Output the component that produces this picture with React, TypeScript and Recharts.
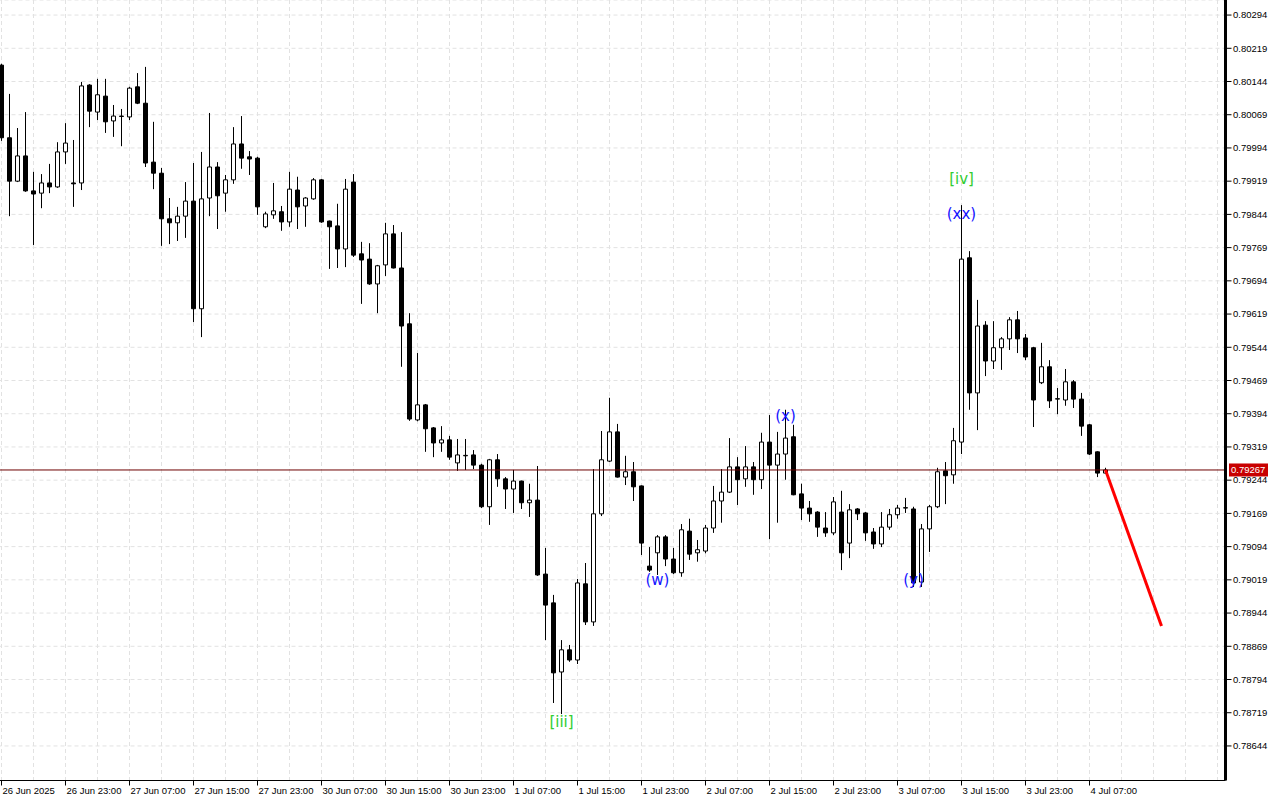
import React from "react";
import {
  Bar,
  CartesianGrid,
  Cell,
  ComposedChart,
  Line,
  ReferenceDot,
  ReferenceLine,
  XAxis,
  YAxis,
} from "recharts";

// H1 bars, 26 Jun 15:00 .. 4 Jul 09:00 (index = bar number)
const opens = [
  0.80181, 0.80017, 0.79919, 0.79976, 0.79897, 0.79892, 0.79915, 0.79906, 0.79985, 0.79915,
  0.79915, 0.80136, 0.80075, 0.80111, 0.80055, 0.80065, 0.80064, 0.80132, 0.80095, 0.79962,
  0.79937, 0.79834, 0.79825, 0.7984, 0.79874, 0.79631, 0.79881, 0.79951, 0.79892, 0.79922,
  0.80003, 0.79974, 0.79971, 0.79816, 0.79843, 0.7985, 0.79827, 0.79899, 0.79863, 0.79879,
  0.79922, 0.79829, 0.79818, 0.79766, 0.79917, 0.79755, 0.79743, 0.79687, 0.7973, 0.798,
  0.79723, 0.79597, 0.7938, 0.79414, 0.79362, 0.79328, 0.79335, 0.79283, 0.79299, 0.79301,
  0.79278, 0.79184, 0.7929, 0.79247, 0.79224, 0.79242, 0.79193, 0.79199, 0.79032, 0.78967,
  0.78811, 0.78861, 0.78838, 0.7901, 0.78924, 0.79168, 0.79287, 0.79353, 0.79251, 0.79263,
  0.79231, 0.7905, 0.7908, 0.79116, 0.79066, 0.79035, 0.79129, 0.7908, 0.79084, 0.79136,
  0.79197, 0.79217, 0.79274, 0.79247, 0.79274, 0.79245, 0.7933, 0.79278, 0.79303, 0.79342,
  0.79213, 0.79181, 0.79172, 0.79136, 0.79125, 0.79172, 0.79102, 0.79179, 0.7917, 0.79127,
  0.791, 0.79138, 0.79166, 0.79181, 0.79179, 0.79014, 0.79134, 0.79184, 0.79265, 0.79256,
  0.7933, 0.79746, 0.79441, 0.79594, 0.79513, 0.79543, 0.79563, 0.79606, 0.79565, 0.79543,
  0.79464, 0.795, 0.79427, 0.79425, 0.79466, 0.79427, 0.79369, 0.79308, 0.7926,
];
const highs = [
  0.80184, 0.80116, 0.80039, 0.80075, 0.7994, 0.79935, 0.79958, 0.80007, 0.8005, 0.80012,
  0.80143, 0.80138, 0.8015, 0.8015, 0.80091, 0.80082, 0.80132, 0.80163, 0.80177, 0.80053,
  0.79949, 0.79881, 0.79861, 0.79917, 0.7996, 0.79985, 0.80073, 0.79962, 0.79933, 0.80041,
  0.80066, 0.79987, 0.79974, 0.7985, 0.79915, 0.79863, 0.7994, 0.79929, 0.79883, 0.79926,
  0.79924, 0.7983, 0.79868, 0.79924, 0.79935, 0.79782, 0.79779, 0.7973, 0.79825, 0.7982,
  0.79804, 0.79621, 0.79531, 0.79416, 0.79364, 0.79366, 0.79344, 0.79337, 0.79337, 0.79312,
  0.79281, 0.79292, 0.79303, 0.79251, 0.79267, 0.79243, 0.79236, 0.79276, 0.79091, 0.78985,
  0.78883, 0.78872, 0.79021, 0.79057, 0.79269, 0.79355, 0.7943, 0.79371, 0.79299, 0.79285,
  0.79232, 0.79093, 0.7912, 0.7912, 0.79091, 0.79145, 0.79157, 0.79109, 0.79143, 0.79231,
  0.79269, 0.79339, 0.79296, 0.79321, 0.79285, 0.79351, 0.79391, 0.79353, 0.79403, 0.79369,
  0.79236, 0.79197, 0.79174, 0.79172, 0.79206, 0.7922, 0.7919, 0.79181, 0.79172, 0.79136,
  0.79172, 0.79179, 0.79188, 0.79204, 0.79184, 0.79145, 0.79188, 0.79272, 0.79285, 0.79362,
  0.79865, 0.79761, 0.79651, 0.79603, 0.79603, 0.79567, 0.79612, 0.79626, 0.79574, 0.79545,
  0.79554, 0.79515, 0.79452, 0.79495, 0.7947, 0.79441, 0.79371, 0.79309, 0.79272,
];
const lows = [
  0.8001, 0.7984, 0.79917, 0.79895, 0.79775, 0.79858, 0.79892, 0.79904, 0.79958, 0.79861,
  0.79899, 0.80041, 0.80057, 0.80028, 0.80019, 0.79998, 0.80057, 0.80093, 0.79951, 0.79901,
  0.79773, 0.79777, 0.79784, 0.79791, 0.79601, 0.79567, 0.7984, 0.79811, 0.7985, 0.79913,
  0.79947, 0.79933, 0.79843, 0.79813, 0.79834, 0.79807, 0.79816, 0.79811, 0.79816, 0.79877,
  0.79825, 0.79721, 0.79723, 0.79725, 0.79748, 0.79642, 0.79685, 0.79621, 0.79705, 0.79722,
  0.795, 0.79378, 0.79377, 0.79308, 0.79296, 0.79308, 0.7929, 0.79265, 0.79267, 0.79269,
  0.79181, 0.79143, 0.79229, 0.79179, 0.7917, 0.79179, 0.79161, 0.79028, 0.78883, 0.78741,
  0.78716, 0.78834, 0.78829, 0.78917, 0.78915, 0.79163, 0.79285, 0.7925, 0.79233, 0.79197,
  0.79075, 0.79037, 0.7903, 0.7905, 0.79032, 0.79026, 0.79064, 0.7906, 0.79079, 0.79125,
  0.79148, 0.79215, 0.79188, 0.79229, 0.79211, 0.79224, 0.79111, 0.79148, 0.79245, 0.7921,
  0.79154, 0.7915, 0.79116, 0.79116, 0.7912, 0.79041, 0.79068, 0.79154, 0.79107, 0.79089,
  0.79093, 0.79132, 0.79157, 0.7917, 0.79003, 0.79003, 0.79082, 0.79181, 0.7919, 0.79236,
  0.79303, 0.79403, 0.79357, 0.79479, 0.79495, 0.79493, 0.79538, 0.79531, 0.79515, 0.79364,
  0.79461, 0.79407, 0.79393, 0.79412, 0.79407, 0.79344, 0.79301, 0.79251, 0.79258,
];
const closes = [
  0.80017, 0.79919, 0.79976, 0.79897, 0.7989, 0.79915, 0.79906, 0.79985, 0.80005, 0.79913,
  0.80134, 0.80077, 0.80114, 0.80053, 0.80066, 0.80066, 0.80129, 0.80095, 0.7996, 0.79937,
  0.79834, 0.79825, 0.7984, 0.79874, 0.79631, 0.79879, 0.79951, 0.79886, 0.79922, 0.80003,
  0.79971, 0.79969, 0.79861, 0.79845, 0.79852, 0.79827, 0.79901, 0.79861, 0.79881, 0.79922,
  0.79827, 0.79816, 0.79766, 0.79901, 0.79752, 0.79741, 0.79687, 0.79728, 0.798, 0.79723,
  0.79592, 0.79382, 0.79414, 0.7936, 0.79328, 0.79335, 0.79296, 0.79301, 0.793, 0.79278,
  0.79184, 0.7929, 0.79247, 0.79224, 0.79242, 0.79193, 0.79199, 0.7903, 0.78962, 0.78809,
  0.78861, 0.78838, 0.79012, 0.78924, 0.79168, 0.7929, 0.79353, 0.79251, 0.79263, 0.79229,
  0.79102, 0.79041, 0.79116, 0.79066, 0.79035, 0.79132, 0.79077, 0.79087, 0.79136, 0.79197,
  0.79217, 0.79274, 0.79245, 0.79274, 0.79245, 0.7933, 0.79278, 0.79303, 0.79339, 0.79211,
  0.79181, 0.79168, 0.79138, 0.79125, 0.79195, 0.7908, 0.79177, 0.79168, 0.79125, 0.791,
  0.79138, 0.79166, 0.79181, 0.79182, 0.79012, 0.79134, 0.79184, 0.79263, 0.79254, 0.79333,
  0.79743, 0.79441, 0.79592, 0.79513, 0.79543, 0.79563, 0.79606, 0.79563, 0.79522, 0.79425,
  0.795, 0.79423, 0.79428, 0.79466, 0.79427, 0.79366, 0.79303, 0.7926, 0.79267,
];

const lastPrice = 0.79267;

// time axis labels (every 8 bars)
const xTickSlots = [0, 8, 16, 24, 32, 40, 48, 56, 64, 72, 80, 88, 96, 104, 112, 120, 128, 136];
const xTickLabels = [
  "26 Jun 2025", "26 Jun 23:00", "27 Jun 07:00", "27 Jun 15:00", "27 Jun 23:00",
  "30 Jun 07:00", "30 Jun 15:00", "30 Jun 23:00", "1 Jul 07:00", "1 Jul 15:00",
  "1 Jul 23:00", "2 Jul 07:00", "2 Jul 15:00", "2 Jul 23:00", "3 Jul 07:00",
  "3 Jul 15:00", "3 Jul 23:00", "4 Jul 07:00",
];

const priceTicks = [
  0.80294, 0.80219, 0.80144, 0.80069, 0.79994, 0.79919, 0.79844, 0.79769, 0.79694, 0.79619,
  0.79544, 0.79469, 0.79394, 0.79319, 0.79244, 0.79169, 0.79094, 0.79019, 0.78944, 0.78869,
  0.78794, 0.78719, 0.78644,
];

// wave labels
const waveSlots = [70, 82, 98, 114, 120, 120];
const wavePrices = [0.78698, 0.79019, 0.79389, 0.79019, 0.79845, 0.79924];
const waveTexts = ["[iii]", "(w)", "(x)", "(y)", "(xx)", "[iv]"];
const waveColors = ["#32cd32", "#1414ff", "#1414ff", "#1414ff", "#1414ff", "#32cd32"];

// forecast segment
const projSlots = [138, 145];
const projPrices = [0.79267, 0.78915];

const totalSlots = 153;
const gridSlots = Array.from({ length: 39 }, (_, k) => k * 4);

const rows = Array.from({ length: totalSlots }, (_, i) => {
  const has = i < opens.length;
  const p = projSlots.indexOf(i);
  return {
    i,
    wick: has ? [lows[i], highs[i]] : undefined,
    body: has ? [Math.min(opens[i], closes[i]), Math.max(opens[i], closes[i])] : undefined,
    up: has && closes[i] >= opens[i],
    proj: p >= 0 ? projPrices[p] : null,
  };
});

const axisFont = "Liberation Sans, Arial, sans-serif";

const Wick = (p: any) => {
  if (p.y == null || isNaN(p.y) || !p.height) return null;
  return <rect x={p.x + p.width / 2 - 0.5} y={p.y} width={1} height={Math.max(p.height, 1)} fill="#000" />;
};

const TimeTick = ({ x, y, payload }: any) => {
  const k = xTickSlots.indexOf(payload.value);
  if (k < 0) return null;
  return (
    <g>
      <line x1={x} x2={x} y1={y} y2={y + 5} stroke="#000" />
      <text x={x + 1} y={y + 10} dy="0.35em" fontSize={9.5} fontFamily={axisFont} fill="#000">
        {xTickLabels[k]}
      </text>
    </g>
  );
};

const PriceTick = ({ x, y, payload }: any) => (
  <g>
    <line x1={x} x2={x + 6} y1={y} y2={y} stroke="#000" />
    <text x={x + 7.5} y={y} dy="0.35em" fontSize={9.5} fontFamily={axisFont} fill="#000">
      {Number(payload.value).toFixed(5)}
    </text>
  </g>
);

const PriceTag = ({ viewBox }: any) => {
  if (!viewBox) return null;
  const right = viewBox.x + viewBox.width;
  return (
    <g>
      <rect x={right + 3.5} y={viewBox.y - 6.5} width={39} height={13} fill="#c80000" />
      <text x={right + 5.5} y={viewBox.y} dy="0.35em" fontSize={9.5} fontFamily={axisFont} fill="#fff">
        {lastPrice.toFixed(5)}
      </text>
    </g>
  );
};

export default function App() {
  return (
    <div style={{ position: "absolute", left: 0, top: 0, width: 1280, height: 800, background: "#fff" }}>
      <ComposedChart width={1280} height={800} data={rows} margin={{ top: 0, right: 0, bottom: 0, left: -2.5 }}>
        <CartesianGrid stroke="#e2e2e2" strokeDasharray="4 3" />
        <XAxis
          dataKey="i"
          type="category"
          ticks={gridSlots}
          interval={0}
          height={19.5}
          padding={{ left: 0, right: 4 }}
          tickSize={0}
          tickMargin={0}
          tickLine={false}
          axisLine={{ stroke: "#000" }}
          tick={<TimeTick />}
        />
        <XAxis xAxisId="wick" dataKey="i" type="category" hide padding={{ left: 0, right: 4 }} />
        <XAxis xAxisId="body" dataKey="i" type="category" hide padding={{ left: 0, right: 4 }} />
        <YAxis
          orientation="right"
          type="number"
          domain={[0.78566, 0.80328]}
          allowDataOverflow
          ticks={priceTicks}
          interval={0}
          width={54.5}
          tickSize={0}
          tickMargin={0}
          tickLine={false}
          axisLine={{ stroke: "#000", strokeWidth: 3 }}
          tick={<PriceTick />}
        />
        <ReferenceLine y={lastPrice} stroke="#6e0000" strokeWidth={1} label={<PriceTag />} />
        <Bar xAxisId="wick" dataKey="wick" barSize={2} shape={<Wick />} isAnimationActive={false} />
        <Bar xAxisId="body" dataKey="body" barSize={4} stroke="#000" strokeWidth={1} isAnimationActive={false}>
          {rows.map((r) => (
            <Cell key={r.i} fill={r.up ? "#ffffff" : "#000000"} />
          ))}
        </Bar>
        <Line
          dataKey="proj"
          stroke="#ff0000"
          strokeWidth={3}
          dot={false}
          connectNulls
          isAnimationActive={false}
        />
        {waveSlots.map((s, k) => (
          <ReferenceDot
            key={k}
            x={s}
            y={wavePrices[k]}
            r={0}
            shape={(p: any) => (
              <text
                x={p.cx}
                y={p.cy}
                dy="0.35em"
                textAnchor="middle"
                fontSize={15}
                fontFamily="DejaVu Sans, sans-serif"
                fill={waveColors[k]}
              >
                {waveTexts[k]}
              </text>
            )}
          />
        ))}
      </ComposedChart>
    </div>
  );
}
